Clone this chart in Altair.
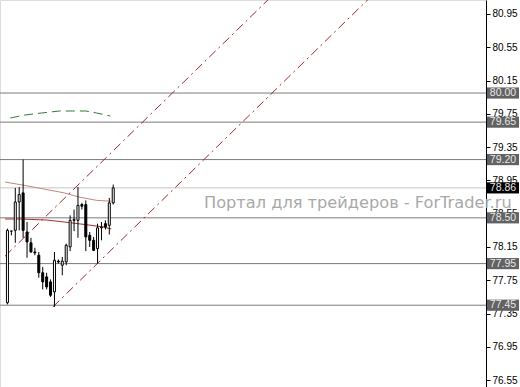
import altair as alt
import pandas as pd

# ---- data ----
opens  = [77.48, 78.34, 78.35, 78.69, 78.80, 78.33, 78.20, 78.09, 78.05, 77.84,
          77.79, 77.73, 77.61, 77.98, 77.93, 77.97, 78.15, 78.47, 78.47, 78.66,
          78.66, 78.29, 78.23, 78.13, 78.38, 78.43, 78.41, 78.68]
highs  = [78.37, 78.345, 78.86, 78.87, 79.20, 78.45, 78.26, 78.14, 78.09, 77.91,
          77.84, 77.76, 78.09, 78.00, 78.03, 78.19, 78.53, 78.60, 78.87, 78.68,
          78.71, 78.33, 78.27, 78.43, 78.45, 78.47, 78.74, 78.90]
lows   = [77.46, 78.29, 78.20, 78.35, 78.26, 78.02, 78.08, 78.05, 77.78, 77.64,
          77.64, 77.55, 77.43, 77.95, 77.81, 77.93, 78.10, 78.34, 78.26, 78.60,
          78.10, 78.15, 78.10, 77.95, 78.23, 78.36, 78.30, 78.66]
closes = [78.35, 78.34, 78.69, 78.78, 78.35, 78.21, 78.09, 78.08, 77.84, 77.73,
          77.67, 77.57, 77.99, 77.97, 77.98, 78.17, 78.47, 78.48, 78.65, 78.64,
          78.27, 78.23, 78.11, 78.38, 78.39, 78.39, 78.68, 78.86]

ma1_x = [-0.6, 3.75, 7.75, 14.5, 18.25, 22.75, 26.5]
ma1_y = [78.93, 78.895, 78.86, 78.80, 78.75, 78.71, 78.70]
ma2_x = [-0.6, 3.25, 10.0, 14.5, 20.75, 24.5, 26.5]
ma2_y = [78.486, 78.486, 78.474, 78.45, 78.414, 78.39, 78.366]
env_x = [0.75, 4.5, 8.75, 13.25, 16.5, 20.0, 22.75, 26.25]
env_y = [79.70, 79.736, 79.76, 79.784, 79.784, 79.784, 79.76, 79.724]

chan_up_x = [-0.6, 70.0]
chan_up_y = [78.04, 81.28]
chan_lo_x = [11.6, 95.0]
chan_lo_y = [77.43, 81.26]

level_prices = [80.00, 79.65, 79.20, 78.86, 78.50, 77.95, 77.45]
level_labels = ["80.00", "79.65", "79.20", "78.86", "78.50", "77.95", "77.45"]
level_kind   = ["level", "level", "level", "bid", "level", "level", "level"]

tick_values = [80.95, 80.55, 80.15, 79.75, 79.35, 78.95, 78.55, 78.15, 77.75,
               77.35, 76.95, 76.55]
watermark = ["Портал для трейдеров - ForTrader.ru"]

# ---- tables ----
candles = pd.DataFrame({"i": list(range(len(opens))), "open": opens, "high": highs,
                        "low": lows, "close": closes})
candles["dir"] = ["up" if c >= o else "down" for o, c in zip(opens, closes)]
ma1 = pd.DataFrame({"i": ma1_x, "p": ma1_y})
ma2 = pd.DataFrame({"i": ma2_x, "p": ma2_y})
env = pd.DataFrame({"i": env_x, "p": env_y})
chan = pd.DataFrame({"i": chan_up_x + chan_lo_x, "p": chan_up_y + chan_lo_y,
                     "line": ["up", "up", "lo", "lo"]})
levels = pd.DataFrame({"p": level_prices, "label": level_labels, "kind": level_kind})
wm = pd.DataFrame({"t": watermark})

xs = alt.Scale(domain=[-0.625, 120.875], nice=False, zero=False)
ys = alt.Scale(domain=[76.467, 81.118], nice=False, zero=False)
YAX = alt.Axis(
    orient="right", values=tick_values, format=".2f", grid=False,
    domainColor="#000000", tickColor="#000000", tickSize=4, domainWidth=1,
    labelFont="Liberation Sans", labelFontSize=10, labelColor="#000000",
    labelPadding=2, title=None, labelOverlap=False, labelBound=False,
    labelFlush=False, zindex=0)
X = lambda f: alt.X(f, type="quantitative", scale=xs, axis=None)
Y = lambda f: alt.Y(f, type="quantitative", scale=ys, axis=YAX, title=None)

level_rules = alt.Chart(levels).mark_rule(strokeWidth=1).encode(
    y=Y("p"),
    color=alt.Color("kind:N", scale=alt.Scale(domain=["level", "bid"],
                                              range=["#7a7a7a", "#c4c4c4"]), legend=None),
)

env_line = alt.Chart(env).mark_line(color="#2f7d32", strokeWidth=1,
                                    strokeDash=[9, 5], clip=True).encode(
    x=X("i"), y=Y("p"))
ma1_line = alt.Chart(ma1).mark_line(color="#c48a78", strokeWidth=1, clip=True).encode(
    x=X("i"), y=Y("p"))
ma2_line = alt.Chart(ma2).mark_line(color="#a83232", strokeWidth=1.2, clip=True).encode(
    x=X("i"), y=Y("p"))
chan_lines = alt.Chart(chan).mark_line(color="#a0282a", strokeWidth=1,
                                       strokeDash=[9, 4, 2, 4], clip=True).encode(
    x=X("i"), y=Y("p"), detail="line:N")

wicks = alt.Chart(candles).mark_rule(color="#000000", strokeWidth=1).encode(
    x=X("i"), y=Y("low"), y2="high")
bodies = alt.Chart(candles).mark_bar(width=2, stroke="#000000", strokeWidth=1).encode(
    x=X("i"), y=Y("open"), y2="close",
    fill=alt.Fill("dir:N", scale=alt.Scale(domain=["up", "down"],
                                          range=["#ffffff", "#000000"]), legend=None),
)

wm_text = alt.Chart(wm).mark_text(align="left", baseline="middle", font="DejaVu Sans",
                                  fontSize=16.2, color="#a9a9a9").encode(
    text="t:N", x=alt.value(204), y=alt.value(203))

boxes = alt.Chart(levels).transform_calculate(
    lo="datum.p - 0.067", hi="datum.p + 0.067"
).mark_rect(clip=False).encode(
    y=Y("lo:Q"), y2="hi:Q", x=alt.value(487), x2=alt.value(519),
    color=alt.Color("kind:N", scale=alt.Scale(domain=["level", "bid"],
                                              range=["#626262", "#000000"]), legend=None),
)
box_text = alt.Chart(levels).mark_text(font="Liberation Sans", fontSize=10.5,
                                       color="#e8e8e8", align="center",
                                       baseline="middle", clip=False).encode(
    y=Y("p"), x=alt.value(503), text="label:N")

chart = alt.layer(
    level_rules, env_line, ma1_line, ma2_line, chan_lines,
    wicks, bodies, wm_text, boxes, box_text
).resolve_scale(color="independent").properties(
    width=486, height=387,
    padding={"left": 0, "top": 0, "right": 34, "bottom": 0},
    autosize=alt.AutoSizeParams(type="none"),
).configure_view(stroke=None).configure(background="#ffffff")

chart.save("out.html", embed_options={"renderer": "svg", "actions": False})
